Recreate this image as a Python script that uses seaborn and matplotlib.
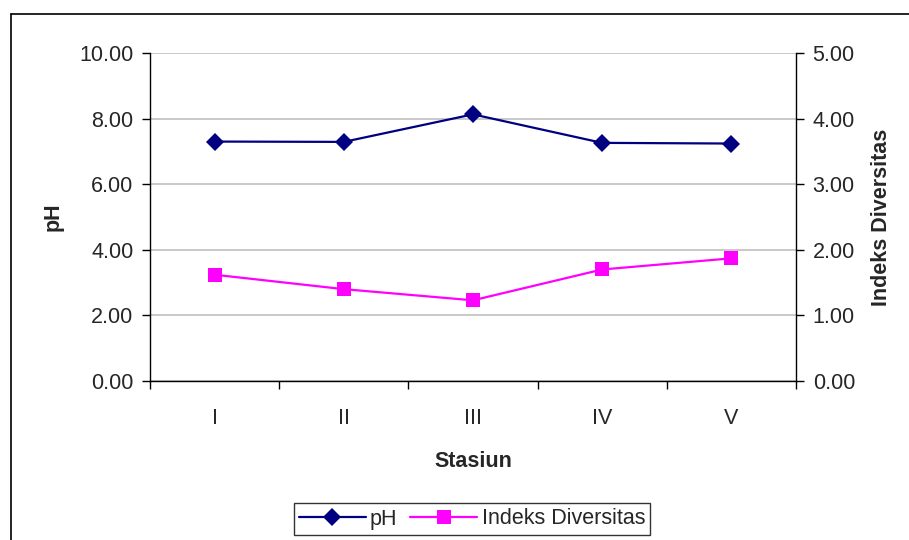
import matplotlib
matplotlib.use("Agg")
import matplotlib.pyplot as plt
import seaborn as sns
import pandas as pd
from matplotlib.lines import Line2D

stasiun = ["I", "II", "III", "IV", "V"]
ph = [7.30, 7.29, 8.13, 7.26, 7.24]
indeks = [1.62, 1.40, 1.23, 1.70, 1.87]
ph_ticks = [0, 2, 4, 6, 8, 10]
id_ticks = [0, 1, 2, 3, 4, 5]

sns.set_style("white")
plt.rcParams['font.family'] = ['Liberation Sans', 'DejaVu Sans']

FS = 15.5
W, H = 909, 540
fig = plt.figure(figsize=(W / 100, H / 100), dpi=100)
L, R, T, B = 150, 796, 53, 381
ax = fig.add_axes([L / W, 1 - B / H, (R - L) / W, (B - T) / H])
ax2 = ax.twinx()

df = pd.DataFrame({"Stasiun": stasiun, "pH": ph, "Indeks": indeks})

sns.lineplot(data=df, x="Stasiun", y="pH", ax=ax, color="#000080", marker="D",
             markersize=9.5, markeredgewidth=0, linewidth=1.6, sort=False)
sns.lineplot(data=df, x="Stasiun", y="Indeks", ax=ax2, color="#FF00FF", marker="s",
             markersize=9.5, markeredgewidth=0, linewidth=1.6, sort=False)

ax.set_xlim(-0.5, 4.5)
ax.set_ylim(0, 10)
ax2.set_ylim(0, 5)
ax.set_yticks(ph_ticks)
ax.set_yticklabels([f"{v:.2f}" for v in ph_ticks])
ax2.set_yticks(id_ticks)
ax2.set_yticklabels([f"{v:.2f}" for v in id_ticks])
ax.set_xticks(range(len(stasiun)))
ax.set_xticklabels(stasiun)
ax.set_xticks([i - 0.5 for i in range(len(stasiun) + 1)], minor=True)

ax.grid(True, axis="y", color="#c0c0c0", linewidth=1.2)
ax.set_axisbelow(True)
for a in (ax, ax2):
    for s in a.spines.values():
        s.set_visible(False)
ax.spines["left"].set_visible(True)
ax.spines["left"].set_color("black")
ax.spines["left"].set_linewidth(1.0)
ax.spines["bottom"].set_visible(True)
ax.spines["bottom"].set_color("black")
ax.spines["bottom"].set_linewidth(1.0)
ax2.spines["right"].set_visible(True)
ax2.spines["right"].set_color("black")
ax2.spines["right"].set_linewidth(1.0)

ax.tick_params(axis="y", direction="out", length=6, width=1, color="black",
               labelsize=FS, pad=6, left=True)
ax2.tick_params(axis="y", direction="out", length=6, width=1, color="black",
                labelsize=FS, pad=6, right=True)
ax.tick_params(axis="x", which="major", length=0, labelsize=FS, pad=19.5)
ax.tick_params(axis="x", which="minor", direction="out", length=6, width=1,
               color="black", bottom=True)

ax.set_xlabel("Stasiun", fontsize=FS, fontweight="bold", labelpad=16)
ax.set_ylabel("pH", fontsize=FS, fontweight="bold")
ax2.set_ylabel("Indeks Diversitas", fontsize=FS, fontweight="bold")
ax.yaxis.set_label_coords(-(L - 64) / (R - L), 0.5)
ax2.yaxis.set_label_coords(1 + (871 - R) / (R - L), 0.5)

handles = [
    Line2D([], [], color="#000080", marker="D", markersize=9.5, markeredgewidth=0, linewidth=1.6),
    Line2D([], [], color="#FF00FF", marker="s", markersize=9.5, markeredgewidth=0, linewidth=1.6),
]
leg = fig.legend(handles, ["pH", "Indeks Diversitas"], loc="center",
                 bbox_to_anchor=(472 / W, 1 - 519 / H), ncol=2, fontsize=FS,
                 frameon=True, fancybox=False, handlelength=3.1, handletextpad=0.2,
                 columnspacing=0.6, borderpad=0.25, borderaxespad=0)
leg.get_frame().set_edgecolor("black")
leg.get_frame().set_linewidth(1.0)

# outer chart border
fig.add_artist(Line2D([11 / W, 11 / W], [0, 1 - 14 / H], color="black", linewidth=1.2,
                      transform=fig.transFigure))
fig.add_artist(Line2D([11 / W, 1], [1 - 14 / H, 1 - 14 / H], color="black", linewidth=1.2,
                      transform=fig.transFigure))

fig.savefig("out.png", dpi=100)
